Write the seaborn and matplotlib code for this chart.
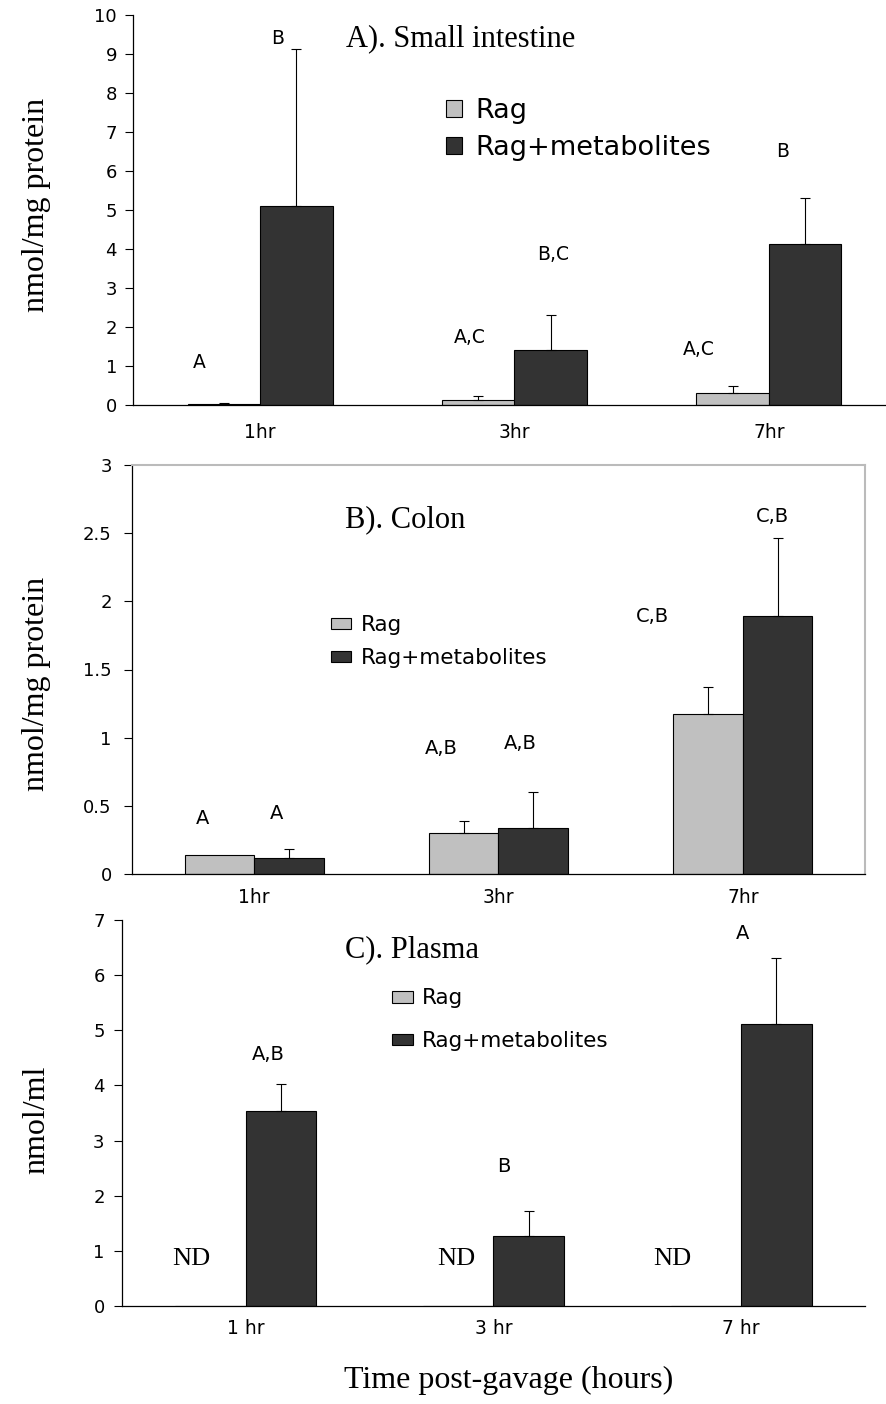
import numpy as np
import pandas as pd
import matplotlib
matplotlib.use("Agg")
import matplotlib.pyplot as plt
import seaborn as sns

# data
groups = ["Rag", "Rag+metabolites"]
times_top = ["1hr", "3hr", "7hr"]
times_plasma = ["1 hr", "3 hr", "7 hr"]

si_rag = [0.03, 0.14, 0.32]
si_rag_err = [0.03, 0.09, 0.17]
si_met = [5.09, 1.41, 4.13]
si_met_err = [4.04, 0.89, 1.17]

colon_rag = [0.137, 0.298, 1.17]
colon_rag_err = [0.0, 0.088, 0.205]
colon_met = [0.117, 0.34, 1.895]
colon_met_err = [0.066, 0.26, 0.567]

plasma_rag = [0.0, 0.0, 0.0]
plasma_rag_err = [0.0, 0.0, 0.0]
plasma_met = [3.53, 1.27, 5.12]
plasma_met_err = [0.50, 0.46, 1.19]

# significance letters: text, x (category units), y (data units)
si_letters = [("A", -0.24, 1.08), ("B", 0.07, 9.4), ("A,C", 0.825, 1.72),
              ("B,C", 1.15, 3.86), ("A,C", 1.725, 1.42), ("B", 2.055, 6.5)]
colon_letters = [("A", -0.21, 0.41), ("A", 0.09, 0.445), ("A,B", 0.765, 0.92),
                 ("A,B", 1.09, 0.96), ("C,B", 1.63, 1.89), ("C,B", 2.12, 2.62)]
plasma_letters = [("A,B", 0.09, 4.56), ("B", 1.04, 2.53), ("A", 2.005, 6.75)]
nd_x = [-0.22, 0.85, 1.72]

palette = {"Rag": "#c0c0c0", "Rag+metabolites": "#333333"}

sns.set_style("white")
plt.rcParams["font.family"] = ["DejaVu Sans"]
plt.rcParams["text.color"] = "black"
plt.rcParams["xtick.color"] = "black"
plt.rcParams["ytick.color"] = "black"
plt.rcParams["axes.labelcolor"] = "black"
serif = "Liberation Serif"

fig = plt.figure(figsize=(8.87, 14.04), dpi=100)


def make_df(times, rag, met):
    return pd.DataFrame({
        "time": times * 2,
        "group": ["Rag"] * 3 + ["Rag+metabolites"] * 3,
        "value": list(rag) + list(met),
    })


def panel(rect, times, rag, rag_err, met, met_err, ymax, ystep, xpad, ypad):
    ax = fig.add_axes(rect)
    df = make_df(times, rag, met)
    sns.barplot(data=df, x="time", y="value", hue="group", hue_order=groups,
                palette=palette, width=0.57, gap=0, errorbar=None,
                edgecolor="black", linewidth=0.8, saturation=1, ax=ax)
    for cont, errs in zip(ax.containers, [rag_err, met_err]):
        for p, e in zip(cont, errs):
            if e <= 0:
                continue
            xc = p.get_x() + p.get_width() / 2
            ax.errorbar(xc, p.get_height(), yerr=[[0], [e]], fmt="none",
                        ecolor="black", elinewidth=0.8, capsize=3.5, capthick=0.8)
    ax.set_xlim(-0.5, 2.5)
    ax.set_ylim(0, ymax)
    yt = np.arange(0, ymax + ystep / 2, ystep)
    ax.set_yticks(yt, labels=[f"{v:g}" for v in yt])
    ax.set_xticks([-0.5, 0.5, 1.5, 2.5], labels=["", "", "", ""])
    ax.set_xticks([0, 1, 2], labels=times, minor=True)
    ax.tick_params(axis="x", which="major", length=5, width=0.8, direction="out")
    ax.tick_params(axis="x", which="minor", length=0, pad=xpad, labelsize=13.5)
    ax.tick_params(axis="y", length=5.5, width=0.8, direction="out", pad=ypad,
                   labelsize=13, left=True)
    ax.set_xlabel("")
    ax.set_ylabel("")
    for s in ["left", "bottom"]:
        ax.spines[s].set_color("black")
        ax.spines[s].set_linewidth(0.9)
    ax.get_legend().remove()
    return ax


def add_legend(ax, x, y, size, hl, hh, spacing, tpad):
    h, l = ax.get_legend_handles_labels()
    ax.legend(h[:2], l[:2], loc="center left", bbox_to_anchor=(x, y),
              frameon=False, fontsize=size, handlelength=hl, handleheight=hh,
              labelspacing=spacing, handletextpad=tpad, borderpad=0,
              borderaxespad=0)


# A) small intestine
axA = panel([133 / 887, 1 - 405 / 1404, 763 / 887, 390 / 1404], times_top,
            si_rag, si_rag_err, si_met, si_met_err, 10, 1, 13, 6)
axA.spines["top"].set_visible(False)
axA.spines["right"].set_visible(False)
for t, x, y in si_letters:
    axA.text(x, y, t, ha="center", va="center", fontsize=13.5)
axA.text(0.79, 9.4, "A). Small intestine", family=serif, fontsize=22,
         ha="center", va="center")
add_legend(axA, 0.41, 0.7055, 19.5, 0.6, 0.6, 0.4, 0.5)

# B) colon
axB = panel([132 / 887, 1 - 874 / 1404, 733 / 887, 409 / 1404], times_top,
            colon_rag, colon_rag_err, colon_met, colon_met_err, 3, 0.5, 10, 9)
for s in ["top", "right"]:
    axB.spines[s].set_visible(True)
    axB.spines[s].set_color("#bbbbbb")
    axB.spines[s].set_linewidth(1.5)
for t, x, y in colon_letters:
    axB.text(x, y, t, ha="center", va="center", fontsize=14)
axB.text(0.62, 2.6, "B). Colon", family=serif, fontsize=22,
         ha="center", va="center")
add_legend(axB, 0.272, 0.568, 15.5, 0.9, 0.45, 0.6, 0.45)

# C) plasma
axC = panel([122 / 887, 1 - 1306 / 1404, 743 / 887, 386 / 1404], times_plasma,
            plasma_rag, plasma_rag_err, plasma_met, plasma_met_err, 7, 1, 9, 7)
axC.spines["top"].set_visible(False)
axC.spines["right"].set_visible(False)
for t, x, y in plasma_letters:
    axC.text(x, y, t, ha="center", va="center", fontsize=14)
for x in nd_x:
    axC.text(x, 0.86, "ND", family=serif, fontsize=19, ha="center", va="center")
axC.text(0.67, 6.47, "C). Plasma", family=serif, fontsize=22,
         ha="center", va="center")
add_legend(axC, 0.364, 0.7415, 15.5, 0.95, 0.45, 1.05, 0.4)

# axis titles
fig.text(37 / 887, 1 - 205 / 1404, "nmol/mg protein", family=serif, fontsize=23,
         rotation=90, ha="center", va="center")
fig.text(37 / 887, 1 - 684 / 1404, "nmol/mg protein", family=serif, fontsize=23,
         rotation=90, ha="center", va="center")
fig.text(37 / 887, 1 - 1120 / 1404, "nmol/ml", family=serif, fontsize=23,
         rotation=90, ha="center", va="center")
fig.text(509 / 887, 1 - 1380 / 1404, "Time post-gavage (hours)", family=serif,
         fontsize=23, ha="center", va="center")

fig.savefig("out.png", dpi=100)
